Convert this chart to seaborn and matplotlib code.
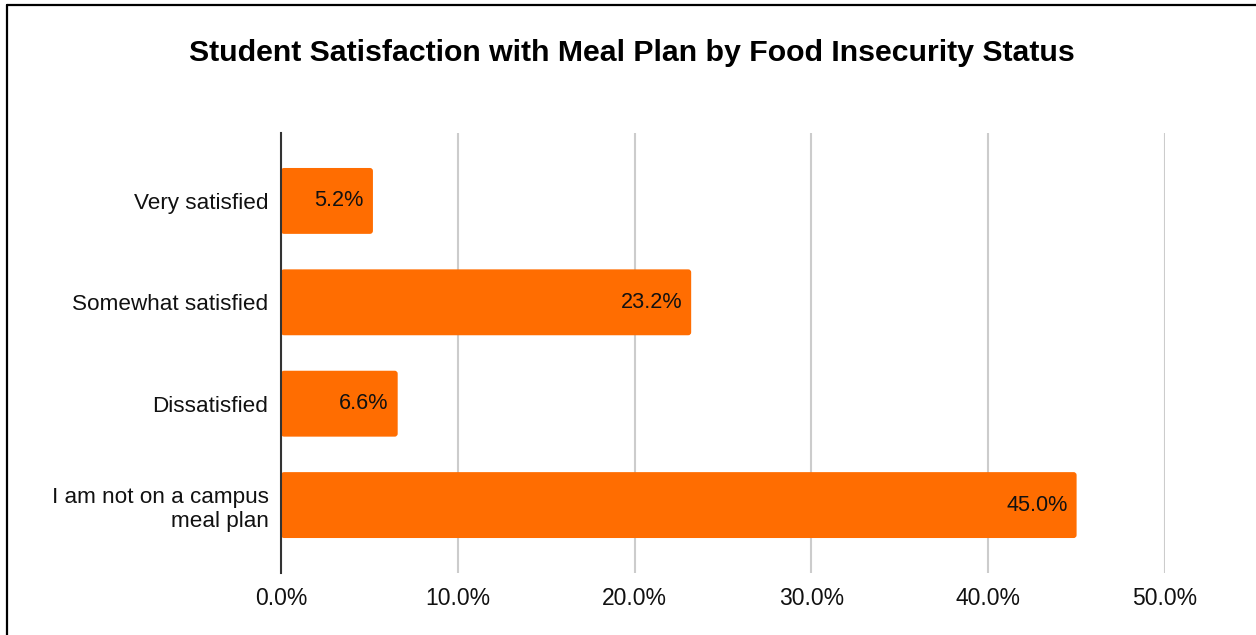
import matplotlib
matplotlib.use("Agg")
import matplotlib.pyplot as plt
from matplotlib.lines import Line2D
from matplotlib.patches import FancyBboxPatch
from matplotlib.ticker import FuncFormatter, MultipleLocator
import seaborn as sns
import pandas as pd

# Survey responses (share of students)
categories = [
    "Very satisfied",
    "Somewhat satisfied",
    "Dissatisfied",
    "I am not on a campus\nmeal plan",
]
shares = [5.2, 23.2, 6.6, 45.0]
tick_values = [0, 10, 20, 30, 40, 50]

title = "Student Satisfaction with Meal Plan by Food Insecurity Status"
bar_color = "#ff6d01"

sns.set_theme(style="white")
plt.rcParams["font.family"] = ["Liberation Sans", "DejaVu Sans"]

df = pd.DataFrame({"category": categories, "share": shares})

W, H = 1256, 635
fig = plt.figure(figsize=(W / 100, H / 100), dpi=100)
ax_left, ax_bottom, ax_w, ax_h = 281, 62, 884, 440
ax = fig.add_axes([ax_left / W, ax_bottom / H, ax_w / W, ax_h / H])

sns.barplot(data=df, x="share", y="category", orient="h", color=bar_color,
            saturation=1, width=0.65, ax=ax, zorder=3)

ax.set_xlim(tick_values[0], tick_values[-1])
ymin, ymax = len(categories) - 1 + 0.67, -0.67
ax.set_ylim(ymin, ymax)

# Swap the plain rectangles for ones with slightly rounded corners
x_per_px = (tick_values[-1] - tick_values[0]) / ax_w
y_per_px = abs(ymin - ymax) / ax_h
for bar in list(ax.patches):
    x0, y0 = bar.get_x(), bar.get_y()
    w, h = bar.get_width(), bar.get_height()
    bar.remove()
    ax.add_patch(FancyBboxPatch((x0, y0), w, h,
                                boxstyle=f"round,pad=0,rounding_size={3 * x_per_px}",
                                mutation_aspect=y_per_px / x_per_px,
                                facecolor=bar_color, edgecolor="none", zorder=3))

ax.xaxis.set_major_locator(MultipleLocator(10))
ax.xaxis.set_major_formatter(FuncFormatter(lambda v, _: f"{v:.1f}%"))
ax.grid(axis="x", color="#cccccc", linewidth=1.5, zorder=0)
ax.set_axisbelow(True)

for side in ["top", "right", "bottom"]:
    ax.spines[side].set_visible(False)
ax.spines["left"].set_color("#333333")
ax.spines["left"].set_linewidth(1.5)
ax.spines["left"].set_zorder(4)

ax.set_xlabel("")
ax.set_ylabel("")
ax.tick_params(axis="x", length=0, pad=10, labelsize=16.5, labelcolor="#111111")
ax.tick_params(axis="y", length=0, pad=9, labelsize=16.2, labelcolor="#111111")
for lbl in ax.get_yticklabels():
    lbl.set_horizontalalignment("right")
    lbl.set_multialignment("right")

# Value labels inside the end of each bar
for i, v in enumerate(shares):
    ax.annotate(f"{v:.1f}%", xy=(v, i), xytext=(-6.5, 0), textcoords="offset points",
                ha="right", va="center", fontsize=15.6, color="#111111", zorder=5)

fig.text(0.503, 1 - 53 / H, title, ha="center", va="center",
         fontsize=21.8, fontweight="bold", color="#000000")

# Frame lines along the top and left edges
fig.add_artist(Line2D([7 / W, 1], [1 - 5 / H, 1 - 5 / H],
                      transform=fig.transFigure, color="black", linewidth=1.6))
fig.add_artist(Line2D([7 / W, 7 / W], [0, 1 - 5 / H],
                      transform=fig.transFigure, color="black", linewidth=1.6))

fig.savefig("out.png", dpi=100, facecolor="white")
